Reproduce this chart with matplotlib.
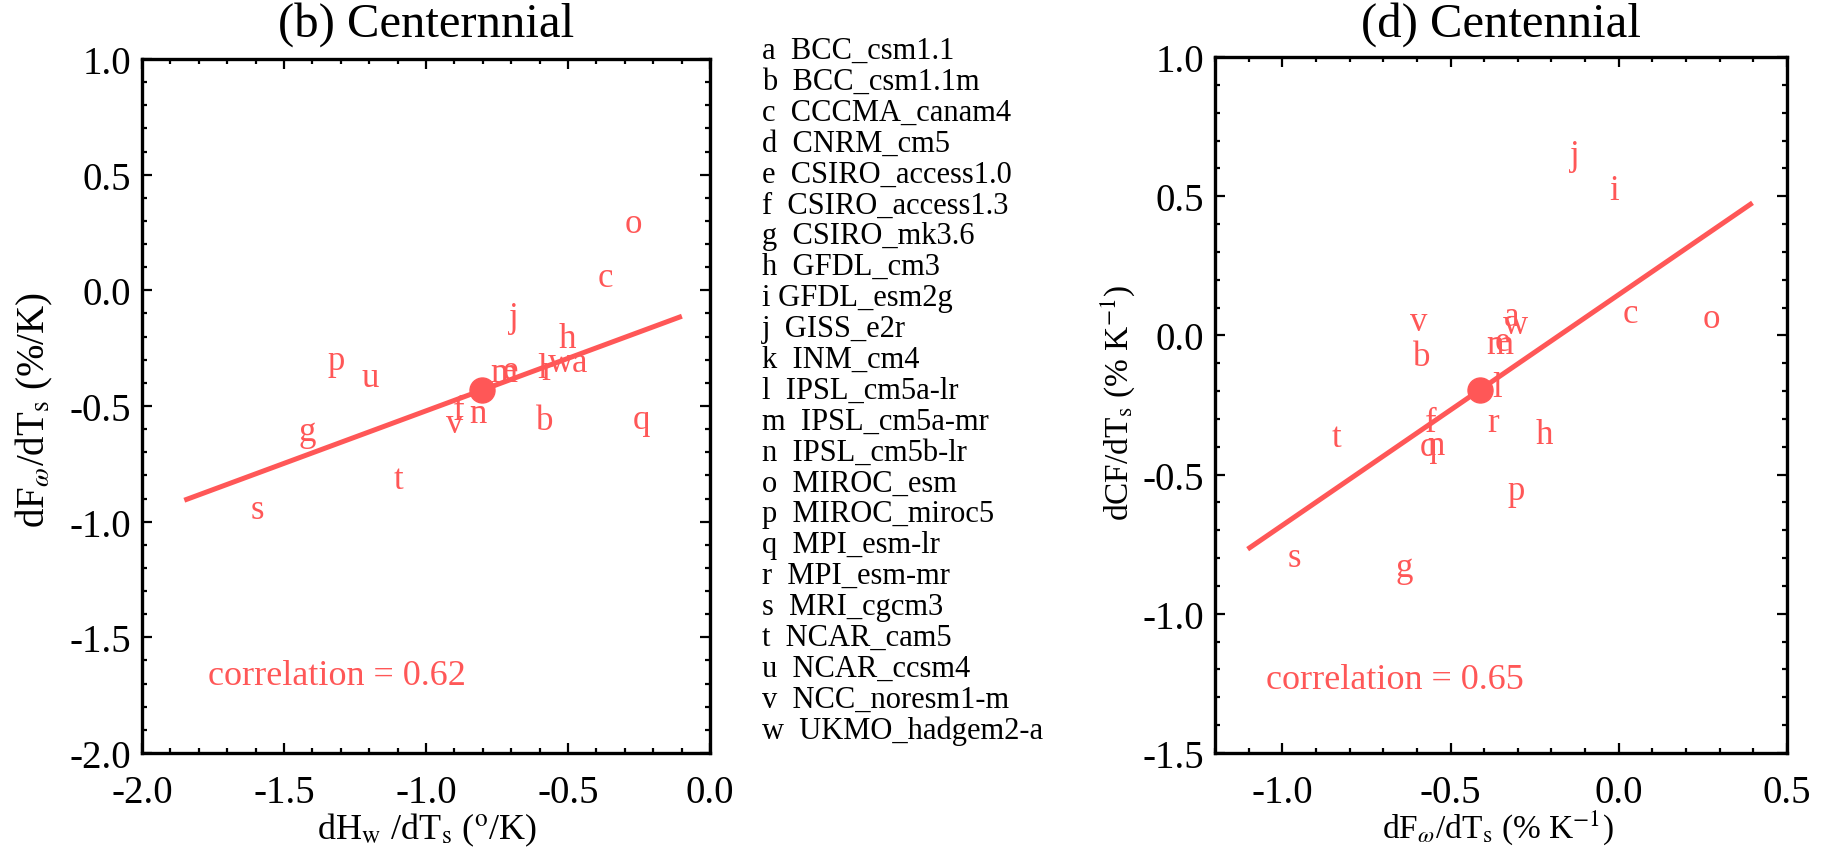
import matplotlib
matplotlib.use("Agg")
import matplotlib.pyplot as plt
import numpy as np
from matplotlib.ticker import MultipleLocator, FixedLocator, FuncFormatter

plt.rcParams['font.family'] = ['Liberation Serif', 'DejaVu Serif']
plt.rcParams['mathtext.fontset'] = 'stix'
plt.rcParams['axes.unicode_minus'] = False

RED = '#ff5757'

# ---------------- data ----------------
model_letters = list("abcdefghijklmnopqrstuvw")
model_names = ["BCC_csm1.1", "BCC_csm1.1m", "CCCMA_canam4", "CNRM_cm5",
               "CSIRO_access1.0", "CSIRO_access1.3", "CSIRO_mk3.6", "GFDL_cm3",
               "GFDL_esm2g", "GISS_e2r", "INM_cm4", "IPSL_cm5a-lr",
               "IPSL_cm5a-mr", "IPSL_cm5b-lr", "MIROC_esm", "MIROC_miroc5",
               "MPI_esm-lr", "MPI_esm-mr", "MRI_cgcm3", "NCAR_cam5",
               "NCAR_ccsm4", "NCC_noresm1-m", "UKMO_hadgem2-a"]

# panel (b): dHw/dTs vs dFw/dTs
b_letters = list("abcefghjlmnopqrstuvw")
b_x = [-0.461, -0.582, -0.367, -0.702, -0.884, -1.419, -0.502, -0.692, -0.590, -0.726,
       -0.817, -0.271, -1.316, -0.241, -0.572, -1.595, -1.096, -1.196, -0.900, -0.528]
b_y = [-0.347, -0.599, 0.017, -0.383, -0.556, -0.648, -0.246, -0.155, -0.376, -0.391,
       -0.568, 0.251, -0.342, -0.597, -0.383, -0.982, -0.855, -0.412, -0.614, -0.347]
b_mean = (-0.802, -0.431)
b_slope, b_intercept = 0.454, -0.067
b_fit_range = (-1.851, -0.099)
b_corr = 0.62

# panel (d): dFw/dTs vs dCF/dTs
d_letters = list("abcefghijlmnopqrstvw")
d_x = [-0.320, -0.585, 0.035, -0.347, -0.558, -0.639, -0.220, -0.013, -0.130, -0.362,
       -0.354, -0.543, 0.275, -0.305, -0.566, -0.374, -0.965, -0.840, -0.595, -0.308]
d_y = [0.037, -0.106, 0.049, -0.052, -0.345, -0.866, -0.386, 0.489, 0.616, -0.219,
       -0.064, -0.425, 0.031, -0.589, -0.428, -0.345, -0.827, -0.398, 0.019, 0.0075]
d_mean = (-0.412, -0.195)
d_slope, d_intercept = 0.829, 0.1466
d_fit_range = (-1.103, 0.3975)
d_corr = 0.65

b_xticks = [-2.0, -1.5, -1.0, -0.5, 0.0]
b_yticks = [-2.0, -1.5, -1.0, -0.5, 0.0, 0.5, 1.0]
d_xticks = [-1.0, -0.5, 0.0, 0.5]
d_yticks = [-1.5, -1.0, -0.5, 0.0, 0.5, 1.0]

# ---------------- figure ----------------
W, H = 1821, 854
fig = plt.figure(figsize=(W / 100, H / 100), dpi=100)

def px_axes(x0, x1, ytop, ybot):
    return fig.add_axes([x0 / W, 1 - ybot / H, (x1 - x0) / W, (ybot - ytop) / H])

axb = px_axes(142, 710, 60, 754)
axd = px_axes(1215, 1787, 58, 754)

fmt = FuncFormatter(lambda v, p: "%.1f" % v)

def style(ax, xlim, ylim, xt, yt):
    ax.set_xlim(*xlim)
    ax.set_ylim(*ylim)
    ax.xaxis.set_major_locator(FixedLocator(xt))
    ax.yaxis.set_major_locator(FixedLocator(yt))
    ax.xaxis.set_minor_locator(MultipleLocator(0.1))
    ax.yaxis.set_minor_locator(MultipleLocator(0.1))
    ax.xaxis.set_major_formatter(fmt)
    ax.yaxis.set_major_formatter(fmt)
    for s in ax.spines.values():
        s.set_linewidth(2.4)
    ax.tick_params(which='both', direction='in', top=True, right=True, width=1.6)
    ax.tick_params(which='major', length=7)
    ax.tick_params(which='minor', length=3.5)
    ax.tick_params(axis='x', which='major', labelsize=28, pad=15)
    ax.tick_params(axis='y', which='major', labelsize=28, pad=8)

style(axb, (-2.0, 0.0), (-2.0, 1.0), b_xticks, b_yticks)
style(axd, (-1.2, 0.5), (-1.5, 1.0), d_xticks, d_yticks)

def panel(ax, letters, xs, ys, mean, slope, intercept, frange, corr, cpos):
    for L, x, y in zip(letters, xs, ys):
        ax.text(x, y, L, color=RED, fontsize=25, ha='center', va='baseline', zorder=3)
    fx = np.array(frange)
    ax.plot(fx, slope * fx + intercept, color=RED, lw=3.6, solid_capstyle='butt', zorder=4)
    ax.plot([mean[0]], [mean[1]], 'o', color=RED, ms=18, zorder=5)
    ax.text(cpos[0], cpos[1], "correlation = %.2f" % corr, color=RED, fontsize=26,
            ha='left', va='baseline')

panel(axb, b_letters, b_x, b_y, b_mean, b_slope, b_intercept, b_fit_range, b_corr, (-1.769, -1.703))
panel(axd, d_letters, d_x, d_y, d_mean, d_slope, d_intercept, d_fit_range, d_corr, (-1.049, -1.266))

# titles
fig.text(426.6 / W, 1 - 24.5 / H, "(b) Centernnial", fontsize=35, ha='center', va='center')
fig.text(1500.6 / W, 1 - 24.5 / H, "(d) Centennial", fontsize=35, ha='center', va='center')

# axis labels
axb.text(0.501, -0.1095, r"dH$_{\mathrm{w}}$ /dT$_{\mathrm{s}}$ ($^{\mathrm{o}}$/K)", transform=axb.transAxes,
         fontsize=26, ha='center', va='center')
axb.text(-0.190, 0.495, r"dF$_{\omega}$/dT$_{\mathrm{s}}$ (%/K)", transform=axb.transAxes,
         fontsize=28, ha='center', va='center', rotation=90)
axd.text(0.495, -0.106, r"dF$_{\omega}$/dT$_{\mathrm{s}}$ (% K$^{-1}$)", transform=axd.transAxes,
         fontsize=24, ha='center', va='center')
axd.text(-0.1696, 0.504, r"dCF/dT$_{\mathrm{s}}$ (% K$^{-1}$)", transform=axd.transAxes,
         fontsize=24, ha='center', va='center', rotation=90)

# model legend
for i, (L, name) in enumerate(zip(model_letters, model_names)):
    sep = " " if L == "i" else "  "
    fig.text(762 / W, 1 - (58.8 + i * 30.9) / H, L + sep + name, fontsize=22,
             ha='left', va='baseline', color='black')

fig.savefig("out.png", dpi=100)
